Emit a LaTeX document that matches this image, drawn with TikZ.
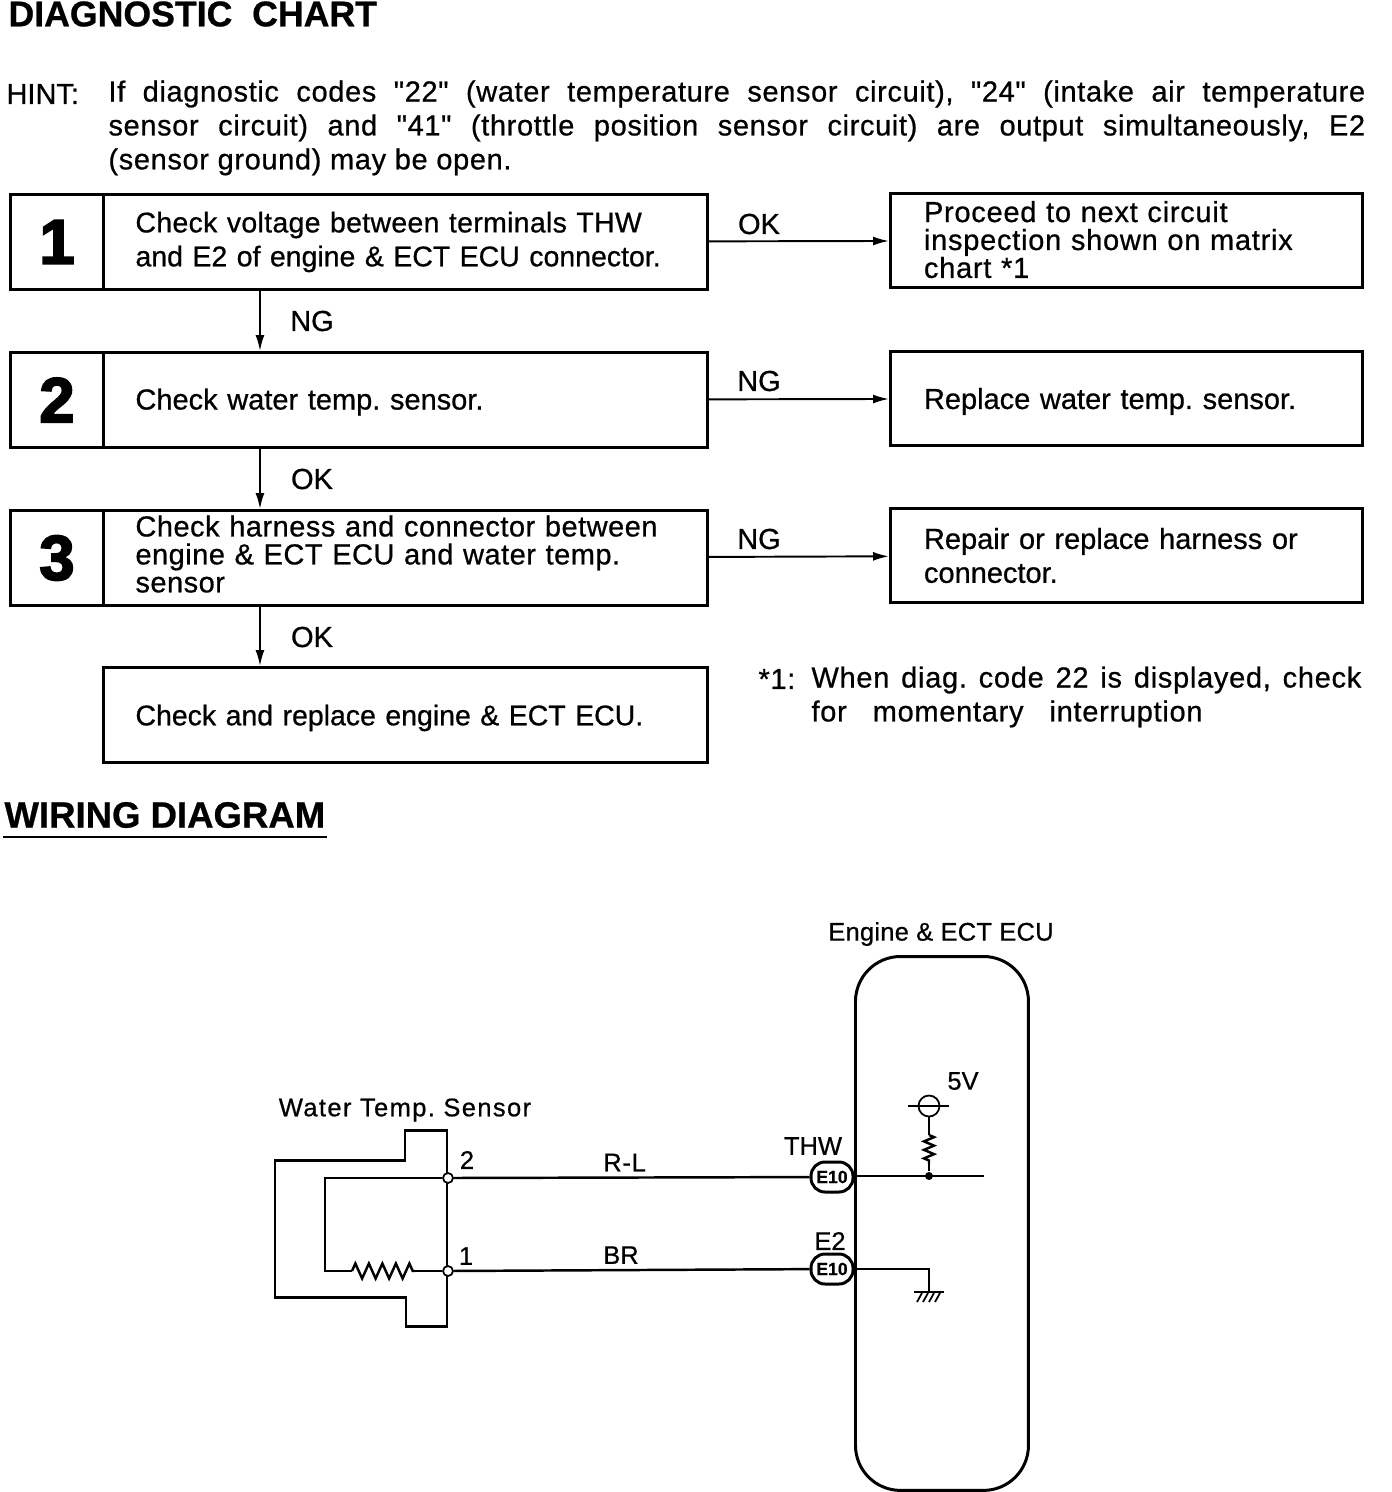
\documentclass[tikz,border=0pt]{standalone}
\usepackage{fontspec}
\setmainfont{Liberation Sans}[FakeBold=0.7,Ligatures=TeXOff]
\newfontfamily\numfont{Liberation Sans Bold}[FakeBold=3]
\usetikzlibrary{arrows.meta,positioning,decorations.pathmorphing}
\newcommand{\bodysize}{\frenchspacing\fontsize{16.5}{19.3}\selectfont}
\newcommand{\slimsize}{\frenchspacing\fontsize{16.2}{19.3}\selectfont}
\newcommand{\tightsize}{\frenchspacing\fontsize{16.5}{15.9}\selectfont}
\newcommand{\wiresize}{\frenchspacing\fontsize{14.5}{17}\selectfont}
\newcommand{\wider}[1]{\addfontfeature{LetterSpace=#1}}

\begin{document}
\begin{tikzpicture}[x=0.02cm,y=-0.02cm,line width=1.7pt,
      every node/.style={font=\bodysize,inner sep=0pt},
      numbox/.style={draw,anchor=north west,minimum width=1.86cm,minimum height=1.9cm,font=\fontsize{36}{36}\selectfont\numfont},
      chkbox/.style={draw,anchor=north west,minimum width=12.08cm,minimum height=1.9cm,text width=10.8cm,inner xsep=0.62cm,align=left},
      resbox/.style={draw,anchor=north west,minimum width=9.44cm,minimum height=1.88cm,text width=8.1cm,inner xsep=0.66cm,align=left},
      flow/.style={line width=1.1pt,-{Latex[length=3.2mm,width=1.8mm]}},
      wire/.style={line width=1.4pt},
      term/.style={circle,draw,fill=white,line width=1pt,minimum size=0.2cm},
      pin/.style={draw,rounded corners=0.28cm,minimum width=0.84cm,minimum height=0.6cm,font=\fontsize{10}{10}\selectfont\bfseries},
      wlabel/.style={font=\wiresize},
      zig/.style={decorate,decoration={zigzag,segment length=0.27cm,amplitude=0.15cm}}]
    \useasboundingbox (0,0) rectangle (1392,1492);
    \node[anchor=west,font=\fontsize{20.3}{20}\selectfont\bfseries] (diag) at (7,14) {DIAGNOSTIC\ \ CHART};
    \node[anchor=west] (hint) at (5,94) {HINT:};
    \node[anchor=north west,text width=25.14cm,align=justify] (hinttext) at (107,79) {\wider{2.2}If diagnostic codes "22" (water temperature sensor circuit), "24" (intake air temperature\linebreak sensor circuit) and "41" (throttle position sensor circuit) are output simultaneously, E2\linebreak (sensor ground) may be open.};
    % chart
    \foreach \n/\y in {1/193,2/351,3/509}
      \node[numbox] (num\n) at (9,\y) {\n\hspace{0.12cm}};
    \node[chkbox,font=\slimsize] (chk1) at (102,193) {\wider{1.1}Check voltage between terminals THW\\\wider{0}and E2 of engine \& ECT ECU connector.};
    \node[chkbox] (chk2) at (102,351) {Check water temp. sensor.\vspace*{-2.3pt}};
    \node[chkbox,font=\tightsize] (chk3) at (102,509) {\wider{1.7}Check harness and connector between\\engine \& ECT ECU and water temp.\\sensor\vspace*{4.5pt}};
    \node[chkbox,font=\slimsize] (chk4) at (102,666) {Check and replace engine \& ECT ECU.\vspace*{-3.4pt}};
    \node[resbox,font=\tightsize] (res1) at (889,192) {\wider{2.6}Proceed to next circuit\\inspection shown on matrix\\chart *1\vspace*{1pt}};
    \node[resbox] (res2) at (889,350) {Replace water temp. sensor.\vspace*{-3.4pt}};
    \node[resbox] (res3) at (889,507) {Repair or replace harness or\\connector.};
    \foreach \a/\t/\y in {1/OK/224,2/NG/381,3/NG/539}
      \node (hor\a) at (759,\y) {\t};
    \foreach \a in {1,2,3}
      \draw[flow] (chk\a) -- (res\a);
    \foreach \a/\b/\t/\y in {1/2/NG/321,2/3/OK/479,3/4/OK/637}{
      \node (ver\a) at (312,\y) {\t};
      \draw[flow] ([xshift=3.16cm]chk\a.south west) -- ([xshift=3.16cm]chk\b.north west);
    }
    \node[anchor=west] (star) at (757,679) {\wider{2.5}*1:};
    \node[anchor=north west,text width=11cm,align=justify] (note) at (810,665) {\wider{2.5}When diag. code 22 is displayed, check\linebreak for\ \ \hspace{4.8pt}momentary\ \ \hspace{4.8pt}interruption\hfill\null};
    % wiring
    \node[anchor=west,font=\frenchspacing\fontsize{20.8}{21}\selectfont\bfseries] (wiring) at (3,815) {WIRING DIAGRAM};
    \draw[line width=1.2pt] (wiring.south west) ++(0,-0.16cm) coordinate (ulstart) -- (ulstart -| wiring.south east);
    \node[wlabel] (ecutext) at (941,934) {\wider{1}Engine \& ECT ECU};
    \node[draw,rounded corners=0.9cm,anchor=north west,minimum width=3.46cm,minimum height=10.68cm] (ecu) at (854,955) {};
    \node[wlabel] (sensortext) at (405,1110) {\wider{5.5}Water Temp. Sensor};
    \draw (405,1130) -- (447,1130) -- (447,1326) -- (406,1326) -- (406,1297) -- (275,1297) -- (275,1160) -- (405,1160) -- cycle;
    \node[term] (t2) at (448,1178) {};
    \node[term] (t1) at (448,1271) {};
    \coordinate (rin) at (352,1271);
    \coordinate (rout) at (415,1271);
    \draw[wire] (t2) -- (325,1178) -- (325,1271) -- (rin);
    \draw[wire,zig] (rin) -- (rout);
    \draw[wire] (rout) -- (t1);
    \node[wlabel] (n2) at (467,1160) {2};
    \node[wlabel] (n1) at (466,1256) {1};
    \node[pin] (thw) at (832,1177) {E10};
    \node[pin] (e2) at (832,1269) {E10};
    \node[wlabel] (thwtext) at (813,1146) {THW};
    \node[wlabel] (e2text) at (830,1241) {E2};
    \draw[wire] (t2) -- node[pos=0.48,above=0.1cm,wlabel] (rl) {\wider{3}R-L} (thw);
    \draw[wire] (t1) -- node[pos=0.47,above=0.1cm,wlabel] (br) {BR} (e2);
    % inside the ecu
    \coordinate (thwend) at (984,1176);
    \coordinate (thwleft) at (855,1176);
    \coordinate (e2left) at (855,1269);
    \node[circle,fill,minimum size=0.16cm] (jun) at (929,1176) {};
    \draw[wire] (thwleft) -- (thwend);
    \node[circle,draw,line width=1pt,minimum size=0.42cm] (vcc) at (929,1106) {};
    \draw[wire] (vcc.west) ++(-0.2cm,0) -- ++(0.82cm,0);
    \node[wlabel] (vtext) at (963,1081) {5V};
    \coordinate (rtop) at (929,1135);
    \coordinate (rbot) at (929,1164);
    \draw[wire] (vcc) -- (rtop);
    \draw[wire,decorate,decoration={zigzag,segment length=0.17cm,amplitude=0.1cm}] (rtop) -- (rbot);
    \draw[wire] (rbot) -- (jun);
    \coordinate (gnd) at (929,1292);
    \draw[wire] (e2left) -- (e2left -| gnd) -- (gnd);
    \draw[wire] (914,1292) -- (944,1292);
    \foreach \x in {917,923,929,935}
      \draw[line width=1pt] (\x,1302) -- (\x+5,1293);
  \end{tikzpicture}
\end{document}
